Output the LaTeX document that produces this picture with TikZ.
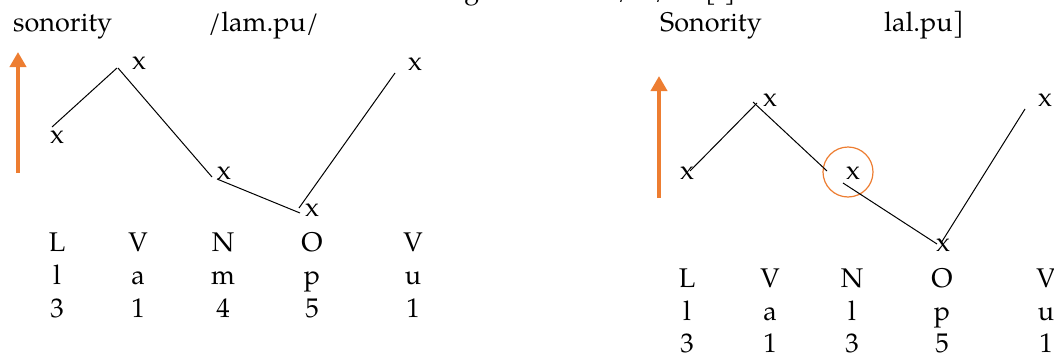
\documentclass[tikz,border=0pt]{standalone}
\usepackage{fontspec}
\setmainfont{TeX Gyre Pagella}
\usetikzlibrary{arrows.meta}
\definecolor{accent}{HTML}{ED7D31}
\begin{document}
\begin{tikzpicture}[x=1pt,y=-1pt,
  txt/.style={inner sep=0pt, font=\fontsize{27}{33}\selectfont},
  xmk/.style={txt, anchor=center},
  lbl/.style={txt, anchor=base},
  ttl/.style={txt, anchor=base west},
  link/.style={line width=1pt, black},
  sonarrow/.style={draw=accent, line width=4pt, -{Triangle[length=15pt,width=16pt]}},
  ring/.style={draw=accent, line width=1.2pt, circle, minimum size=50pt, inner sep=0pt}
]
\useasboundingbox (0,0) rectangle (1054,356);

% clipped heading above the picture
\node[txt, anchor=base east] (head) at (736,-1.5) {Sound change of a nasal /m/ to [l]};

% ---------- left panel ----------
\node[ttl] (tl1) at (13,31) {sonority};
\node[ttl] (tl2) at (208,31) {/lam.pu/};

\coordinate (la0) at (18,173);
\coordinate (la1) at (18,52);
\draw[sonarrow] (la0) -- (la1);

\node[xmk] (lx1) at (57,137) {x};
\node[xmk] (lx2) at (139,63) {x};
\node[xmk] (lx3) at (224,173) {x};
\node[xmk] (lx4) at (312,210) {x};
\node[xmk] (lx5) at (415,64) {x};

\coordinate (lp1) at (52,127);
\coordinate (lp2) at (117,68);
\coordinate (lp3) at (118,68);
\coordinate (lp4) at (212,177);
\coordinate (lp5) at (217,179);
\coordinate (lp6) at (300,213);
\coordinate (lp7) at (299,208);
\coordinate (lp8) at (395,73);
\draw[link] (lp1) -- (lp2);
\draw[link] (lp3) -- (lp4);
\draw[link] (lp5) -- (lp6);
\draw[link] (lp7) -- (lp8);

\foreach \i/\px/\a/\b/\c in {1/57/L/l/3, 2/138/V/a/1, 3/223/N/m/4, 4/312/O/p/5, 5/413/V/u/1}{
  \node[lbl] (lr1c\i) at (\px,251) {\a};
  \node[lbl] (lr2c\i) at (\px,284) {\b};
  \node[lbl] (lr3c\i) at (\px,317) {\c};
}

% ---------- right panel ----------
\node[ttl] (tr1) at (660,31) {Sonority};
\node[ttl] (tr2) at (884,31) {lal.pu]};

\coordinate (ra0) at (659,198);
\coordinate (ra1) at (659,76);
\draw[sonarrow] (ra0) -- (ra1);

\node[xmk] (rx1) at (687,173) {x};
\node[xmk] (rx2) at (770,100) {x};
\node[xmk] (rx3) at (853,173) {x};
\node[xmk] (rx4) at (943,245) {x};
\node[xmk] (rx5) at (1045,100) {x};

\node[ring] (ring) at (848,172) {};

\coordinate (rp1) at (690,171);
\coordinate (rp2) at (757,103);
\coordinate (rp3) at (753,102);
\coordinate (rp4) at (827,171);
\coordinate (rp5) at (843,183);
\coordinate (rp6) at (937,244);
\coordinate (rp7) at (941,243);
\coordinate (rp8) at (1025,109);
\draw[link] (rp1) -- (rp2);
\draw[link] (rp3) -- (rp4);
\draw[link] (rp5) -- (rp6);
\draw[link] (rp7) -- (rp8);

\foreach \i/\px/\a/\b/\c in {1/687/L/l/3, 2/770/V/a/1, 3/852/N/l/3, 4/942/O/p/5, 5/1046/V/u/1}{
  \node[lbl] (rr1c\i) at (\px,287) {\a};
  \node[lbl] (rr2c\i) at (\px,320) {\b};
  \node[lbl] (rr3c\i) at (\px,352) {\c};
}
\end{tikzpicture}
\end{document}
